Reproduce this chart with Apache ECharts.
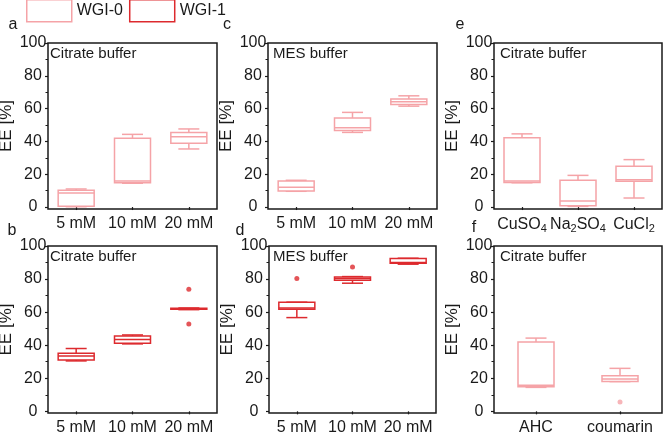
<!DOCTYPE html>
<html>
<head>
<meta charset="utf-8">
<script src="https://cdn.jsdelivr.net/npm/echarts@6/dist/echarts.min.js"></script>
<style>
  html, body { margin: 0; padding: 0; background: #fff; }
  #chart { width: 666px; height: 437px; }
</style>
</head>
<body>
<div id="chart"></div>
<script>
// categories
var catsConc = ['5 mM', '10 mM', '20 mM'];
var catsSalt = ['CuSO4', 'Na2SO4', 'CuCl2'];
var catsInh = ['AHC', 'coumarin'];

// box stats per category: [min, q1, median, q3, max]
var boxA = [[0.2, 0.5, 8.5, 10.2, 11.0], [14.5, 14.8, 15.8, 42.0, 44.3], [35.4, 38.9, 42.9, 45.5, 47.6]];
var boxB = [[30.5, 31.0, 33.5, 35.2, 38.0], [40.8, 41.2, 43.5, 45.6, 46.2], [61.5, 61.7, 62.0, 62.3, 62.5]];
var boxC = [[9.6, 9.8, 12.1, 15.8, 16.3], [45.5, 46.6, 48.4, 54.3, 57.7], [61.5, 62.5, 64.2, 65.8, 67.8]];
var boxD = [[56.7, 61.8, 62.5, 66.0, 66.0], [77.5, 79.3, 80.3, 81.3, 81.5], [89.0, 89.5, 90.0, 92.4, 92.6]];
var boxE = [[14.8, 15.0, 15.9, 42.3, 44.6], [0.4, 0.8, 3.7, 16.3, 19.3], [5.5, 15.7, 16.7, 24.8, 28.9]];
var boxF = [[14.5, 14.9, 15.8, 41.9, 44.3], [18.0, 18.1, 19.6, 21.5, 26.0]];

// outliers: [category index, value]
var outB = [[2, 73.8], [2, 52.9]];
var outD = [[0, 80.3], [1, 87.3]];
var outF = [[1, 5.6]];

var yTicks = [0, 20, 40, 60, 80, 100];
var yMinor = [10, 30, 50, 70, 90];

var PINK = '#f5a3a7';
var RED = '#dd2a2e';
var FONT = 'Liberation Sans, Arial, sans-serif';

var panels = [
  { letter: 'a', lx: 13, ly: 25, grid: { left: 48, top: 43, width: 169, height: 166 }, min: -1.2, cats: catsConc, box: boxA, out: [], name: 'WGI-0', color: PINK, note: 'Citrate buffer', nx: 50 },
  { letter: 'c', lx: 227, ly: 25, grid: { left: 268, top: 43, width: 169, height: 166 }, min: -1.2, cats: catsConc, box: boxC, out: [], name: 'WGI-0', color: PINK, note: 'MES buffer', nx: 273 },
  { letter: 'e', lx: 460, ly: 25, grid: { left: 494, top: 43, width: 168, height: 166 }, min: -1.2, cats: catsSalt, box: boxE, out: [], name: 'WGI-0', color: PINK, note: 'Citrate buffer', nx: 500, chem: true },
  { letter: 'b', lx: 12, ly: 231, grid: { left: 48, top: 246, width: 169, height: 167 }, min: -1, cats: catsConc, box: boxB, out: outB, name: 'WGI-1', color: RED, note: 'Citrate buffer', nx: 50 },
  { letter: 'd', lx: 240, ly: 231, grid: { left: 269, top: 246, width: 167, height: 167 }, min: -1, cats: catsConc, box: boxD, out: outD, name: 'WGI-1', color: RED, note: 'MES buffer', nx: 273 },
  { letter: 'f', lx: 474, ly: 228, grid: { left: 494, top: 246, width: 168, height: 167 }, min: -1, cats: catsInh, box: boxF, out: outF, name: 'WGI-0', color: PINK, note: 'Citrate buffer', nx: 500 }
];

function boxRender(color) {
  return function (params, api) {
    var x = api.value(0);
    var lo = api.coord([x, api.value(1)]);
    var q1 = api.coord([x, api.value(2)]);
    var md = api.coord([x, api.value(3)]);
    var q3 = api.coord([x, api.value(4)]);
    var hi = api.coord([x, api.value(5)]);
    var cx = lo[0], hw = 18, cw = 10.5;
    var st = { stroke: color, lineWidth: 1.5, fill: null };
    return {
      type: 'group',
      children: [
        { type: 'line', shape: { x1: cx, y1: q3[1], x2: cx, y2: hi[1] }, style: st },
        { type: 'line', shape: { x1: cx, y1: q1[1], x2: cx, y2: lo[1] }, style: st },
        { type: 'line', shape: { x1: cx - cw, y1: hi[1], x2: cx + cw, y2: hi[1] }, style: st },
        { type: 'line', shape: { x1: cx - cw, y1: lo[1], x2: cx + cw, y2: lo[1] }, style: st },
        { type: 'rect', shape: { x: cx - hw, y: q3[1], width: hw * 2, height: q1[1] - q3[1] }, style: { stroke: color, lineWidth: 1.5, fill: '#fff' } },
        { type: 'line', shape: { x1: cx - hw, y1: md[1], x2: cx + hw, y2: md[1] }, style: st }
      ]
    };
  };
}

// chem formulas get subscript digits
function chemLabel(v) {
  return v.replace(/(\d)/g, '{s|$1}');
}

var grids = [], xAxes = [], yAxes = [], series = [], graphics = [];

panels.forEach(function (p, i) {
  grids.push(Object.assign({ show: true, borderColor: '#1a1a1a', borderWidth: 1.5, backgroundColor: 'transparent', outerBoundsMode: 'none' }, p.grid));
  var xl = { interval: 0, margin: 7, color: '#1a1a1a', fontSize: 16, fontFamily: FONT };
  if (p.chem) {
    xl.formatter = chemLabel;
    xl.rich = { s: { fontSize: 11, fontFamily: FONT, color: '#1a1a1a', verticalAlign: 'bottom', padding: [7, 0, 0, 0] } };
  }
  xAxes.push({
    type: 'category', gridIndex: i, data: p.cats,
    axisLine: { show: false },
    axisTick: { show: true, alignWithLabel: true, length: 3, lineStyle: { color: '#1a1a1a', width: 1.2 } },
    axisLabel: xl,
    splitLine: { show: false }
  });
  // main y axis
  yAxes.push({
    type: 'value', gridIndex: i, min: p.min, max: 100,
    name: 'EE [%]', nameLocation: 'middle', nameRotate: 90, nameGap: 33,
    nameTextStyle: { fontSize: 17, fontFamily: FONT, color: '#1a1a1a' },
    axisLine: { show: false },
    axisTick: { show: true, length: 3, customValues: yTicks, lineStyle: { color: '#1a1a1a', width: 1.2 } },
    axisLabel: { customValues: yTicks, margin: 15, align: 'center', fontSize: 16, fontFamily: FONT, color: '#1a1a1a' },
    splitLine: { show: false }
  });
  // minor ticks only
  yAxes.push({
    type: 'value', gridIndex: i, min: p.min, max: 100, position: 'left',
    axisLine: { show: false },
    axisTick: { show: true, length: 2.5, customValues: yMinor, lineStyle: { color: '#1a1a1a', width: 1 } },
    axisLabel: { show: false },
    splitLine: { show: false }
  });

  series.push({
    type: 'custom', name: p.name, xAxisIndex: i, yAxisIndex: i * 2,
    renderItem: boxRender(p.color),
    itemStyle: { color: p.color },
    encode: { x: 0, y: [1, 2, 3, 4, 5] },
    data: p.box.map(function (b, k) { return [k].concat(b); }),
    silent: true
  });
  if (p.out.length) {
    series.push({
      type: 'scatter', name: p.name, xAxisIndex: i, yAxisIndex: i * 2,
      symbol: 'circle', symbolSize: 5,
      itemStyle: { color: p.color },
      data: p.out,
      silent: true
    });
  }

  graphics.push({
    type: 'text', x: p.lx, y: p.ly,
    style: { text: p.letter, fontSize: 16, fontFamily: FONT, fill: '#1a1a1a', align: 'center', verticalAlign: 'middle' }
  });
  graphics.push({
    type: 'text', x: p.nx, y: p.grid.top + 11,
    style: { text: p.note, fontSize: 15, fontFamily: FONT, fill: '#1a1a1a', align: 'left', verticalAlign: 'middle' }
  });
});

var chart = echarts.init(document.getElementById('chart'), null, { renderer: 'canvas' });
chart.setOption({
  animation: false,
  backgroundColor: '#fff',
  legend: {
    left: 26, top: -1, padding: 0,
    itemWidth: 45, itemHeight: 22, itemGap: 6,
    icon: 'rect',
    selectedMode: false,
    textStyle: { fontSize: 16, fontFamily: FONT, color: '#1a1a1a' },
    data: [
      { name: 'WGI-0', itemStyle: { color: '#fff', borderColor: PINK, borderWidth: 1.5 } },
      { name: 'WGI-1', itemStyle: { color: '#fff', borderColor: RED, borderWidth: 1.5 } }
    ]
  },
  grid: grids,
  xAxis: xAxes,
  yAxis: yAxes,
  series: series,
  graphic: graphics
});
</script>
</body>
</html>
